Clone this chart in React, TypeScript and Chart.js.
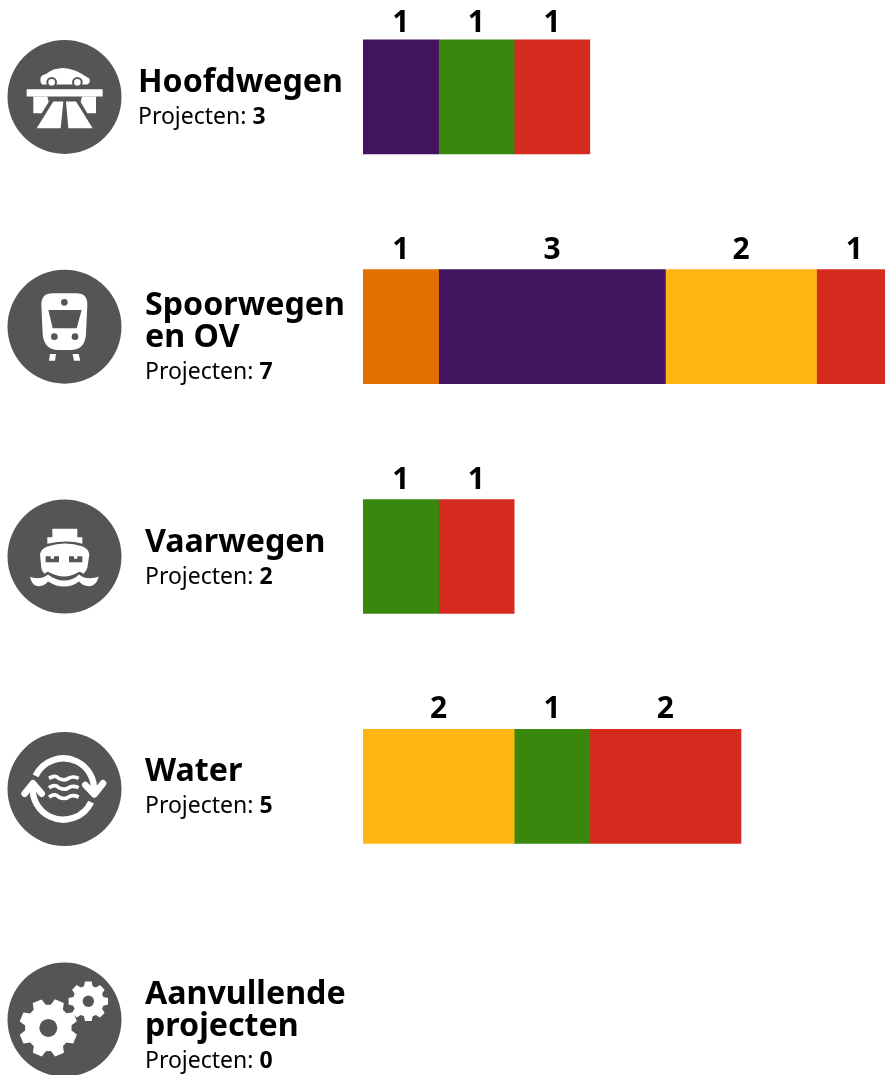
import React, { useEffect, useRef } from "react";
import { Chart, registerables } from "chart.js";

Chart.register(...registerables);

const categories = ["Hoofdwegen", "Spoorwegen en OV", "Vaarwegen", "Water", "Aanvullende projecten"];
const titleLines = [["Hoofdwegen"], ["Spoorwegen", "en OV"], ["Vaarwegen"], ["Water"], ["Aanvullende", "projecten"]];
const projectCounts = [3, 7, 2, 5, 0];

const orangeValues = [null, 1, null, null, null];
const purpleValues = [1, 3, null, null, null];
const amberValues = [null, 2, null, 2, null];
const greenValues = [1, null, 1, 1, null];
const redValues = [1, 1, 1, 2, null];

const FONT = '"Noto Sans"';
const DISC = "#555555";

function polygonGear(ctx: CanvasRenderingContext2D, x: number, y: number, outer: number, inner: number, hole: number, rot: number) {
  const teeth = 8;
  ctx.fillStyle = "#fff";
  ctx.beginPath();
  for (let i = 0; i < teeth; i++) {
    const a = rot + (i * Math.PI * 2) / teeth;
    const w = Math.PI / teeth;
    const pts: [number, number][] = [
      [inner, a - w * 0.72],
      [outer, a - w * 0.42],
      [outer, a + w * 0.42],
      [inner, a + w * 0.72],
    ];
    pts.forEach(([r, t], k) => {
      const px = x + r * Math.cos(t);
      const py = y + r * Math.sin(t);
      if (i === 0 && k === 0) ctx.moveTo(px, py);
      else ctx.lineTo(px, py);
    });
  }
  ctx.closePath();
  ctx.fill();
  ctx.fillStyle = DISC;
  ctx.beginPath();
  ctx.arc(x, y, hole, 0, Math.PI * 2);
  ctx.fill();
}

function drawIcon(ctx: CanvasRenderingContext2D, index: number) {
  const white = (d: string) => {
    ctx.fillStyle = "#fff";
    ctx.fill(new Path2D(d));
  };
  const dark = (d: string) => {
    ctx.fillStyle = DISC;
    ctx.fill(new Path2D(d));
  };
  const dot = (x: number, y: number, r: number, color: string) => {
    ctx.fillStyle = color;
    ctx.beginPath();
    ctx.arc(x, y, r, 0, Math.PI * 2);
    ctx.fill();
  };
  if (index === 0) {
    ctx.translate(-192, -291);
    white("M122 248 Q116 226 138 222 Q158 204 190 204 Q222 204 268 236 Q272 250 262 254 H126Z");
    dot(155, 247, 16, DISC);
    dot(232, 247, 16, DISC);
    dot(155, 247, 10, "#fff");
    dot(232, 247, 10, "#fff");
    white("M80 268 H308 V290 H80Z");
    white("M100 290 H142 L146 306 L125 340 H100Z");
    white("M246 290 H288 V340 H262 L242 306Z");
    white("M110 385 L160 305 H190 L182 385Z");
    white("M205 385 L198 305 H228 L278 385Z");
  } else if (index === 1) {
    ctx.translate(-192, -200);
    white("M158 100 H230 Q262 100 262 134 L258 222 Q255 270 212 270 H176 Q132 270 128 222 L124 134 Q124 100 158 100Z");
    dark("M145 150 H245 L230 205 H158Z");
    dot(193, 127, 10, DISC);
    dot(163, 230, 10, DISC);
    dot(225, 230, 10, DISC);
    white("M150 282 H168 L165 302 H147Z");
    white("M218 282 H236 L241 302 H222Z");
  } else if (index === 2) {
    ctx.translate(-192, -198);
    white("M157 115 H232 V140 H247 V160 Q205 146 142 160 V140 H157Z");
    white("M120 192 Q122 176 142 168 Q195 150 248 168 Q266 176 268 192 L262 232 Q258 245 250 250 Q243 244 237 244 Q215 258 192 258 Q170 258 144 244 Q140 244 135 250 Q126 245 124 232Z");
    dark("M137 197 H152 V205 H162 V197 H177 V215 H137Z");
    dark("M207 197 H222 V205 H232 V197 H247 V215 H207Z");
    white("M90 258 C100 264 125 268 144 252 C160 264 176 270 192 270 C210 270 225 264 237 252 C255 268 280 264 296 258 C292 275 283 287 267 287 C255 287 245 282 237 273 C225 282 210 288 192 288 C175 288 158 282 144 273 C137 282 128 287 117 287 C100 287 94 275 90 258Z");
  } else if (index === 3) {
    ctx.translate(-192, -192);
    ctx.strokeStyle = "#fff";
    ctx.lineCap = "butt";
    ctx.lineJoin = "round";
    ctx.lineWidth = 19;
    ctx.beginPath();
    ctx.arc(190, 192, 92, Math.PI * 1.14, Math.PI * 2.03);
    ctx.stroke();
    ctx.beginPath();
    ctx.arc(190, 192, 92, Math.PI * 0.14, Math.PI * 1.03);
    ctx.stroke();
    ctx.lineCap = "round";
    ctx.lineWidth = 20;
    ctx.beginPath();
    ctx.moveTo(74, 206);
    ctx.lineTo(99, 175);
    ctx.lineTo(125, 206);
    ctx.stroke();
    ctx.beginPath();
    ctx.moveTo(256, 180);
    ctx.lineTo(283, 208);
    ctx.lineTo(309, 175);
    ctx.stroke();
    ctx.lineWidth = 11;
    ctx.lineCap = "butt";
    [160, 188, 216].forEach((y) => {
      ctx.beginPath();
      ctx.moveTo(147, y);
      ctx.bezierCurveTo(160, y - 8, 170, y - 8, 176, y);
      ctx.bezierCurveTo(188, y + 6, 198, y + 6, 206, y);
      ctx.bezierCurveTo(214, y - 6, 226, y - 4, 236, y);
      ctx.stroke();
    });
  } else {
    ctx.translate(-192, -193);
    polygonGear(ctx, 145, 218, 88, 70, 27, 0.39);
    polygonGear(ctx, 265, 138, 60, 47, 17, 0);
  }
}

const rowDecorations = {
  id: "rowDecorations",
  afterDatasetsDraw(chart: Chart) {
    const { ctx, scales } = chart;
    const y = scales.y;
    const x = scales.x;
    ctx.save();

    ctx.fillStyle = "#000";
    ctx.textBaseline = "alphabetic";
    ctx.textAlign = "center";
    ctx.font = `700 30px ${FONT}`;
    categories.forEach((_, row) => {
      let sum = 0;
      const lift = [65, 68, 68, 68.5, 68][row];
      chart.data.datasets.forEach((ds) => {
        const v = ds.data[row] as number | null;
        if (v == null) return;
        ctx.fillText(String(v), x.getPixelForValue(sum + v / 2), y.getPixelForValue(row) - lift);
        sum += v;
      });
    });

    ctx.textAlign = "left";
    categories.forEach((_, row) => {
      const cy = y.getPixelForValue(row);
      const discY = cy + [0, 0, 0, 2.7, 3.5][row];
      ctx.fillStyle = DISC;
      ctx.beginPath();
      ctx.arc(64.5, discY, 57, 0, Math.PI * 2);
      ctx.fill();
      ctx.save();
      ctx.translate(64, discY);
      ctx.scale(1 / 3, 1 / 3);
      drawIcon(ctx, row);
      ctx.restore();

      const lines = titleLines[row];
      const textX = row === 0 ? 138 : 145;
      let baseline = lines.length === 1 ? cy - 5 : cy - 12;
      ctx.fillStyle = "#000";
      ctx.font = `700 32.2px ${FONT}`;
      lines.forEach((line) => {
        ctx.fillText(line, textX, baseline);
        baseline += 32;
      });
      ctx.font = `400 23px ${FONT}`;
      const prefix = "Projecten: ";
      ctx.fillText(prefix, textX, baseline);
      const w = ctx.measureText(prefix).width;
      ctx.font = `700 23px ${FONT}`;
      ctx.fillText(String(projectCounts[row]), textX + w, baseline);
    });
    ctx.restore();
  },
};

export default function App() {
  const ref = useRef<HTMLCanvasElement>(null);
  useEffect(() => {
    const chart = new Chart(ref.current!, {
      type: "bar",
      data: {
        labels: categories,
        datasets: [
          { label: "Oranje", data: orangeValues, backgroundColor: "#e17000" },
          { label: "Paars", data: purpleValues, backgroundColor: "#42145f" },
          { label: "Geel", data: amberValues, backgroundColor: "#ffb612" },
          { label: "Groen", data: greenValues, backgroundColor: "#39870c" },
          { label: "Rood", data: redValues, backgroundColor: "#d52b1e" },
        ],
      },
      options: {
        indexAxis: "y",
        responsive: false,
        animation: false,
        layout: { padding: { left: 363, right: 0, top: 0, bottom: 0 } },
        datasets: { bar: { barThickness: 114, borderWidth: 0 } },
        plugins: { legend: { display: false }, tooltip: { enabled: false } },
        scales: {
          x: { stacked: true, display: false, min: 0, max: 6.905 },
          y: { stacked: true, display: false },
        },
      },
      plugins: [rowDecorations],
    });
    return () => chart.destroy();
  }, []);
  return (
    <div style={{ position: "fixed", left: 0, top: 0, width: 885, height: 1075, overflow: "hidden", background: "#fff" }}>
      <canvas ref={ref} width={885} height={1149} style={{ position: "absolute", left: 0, top: -18, display: "block" }} />
    </div>
  );
}
